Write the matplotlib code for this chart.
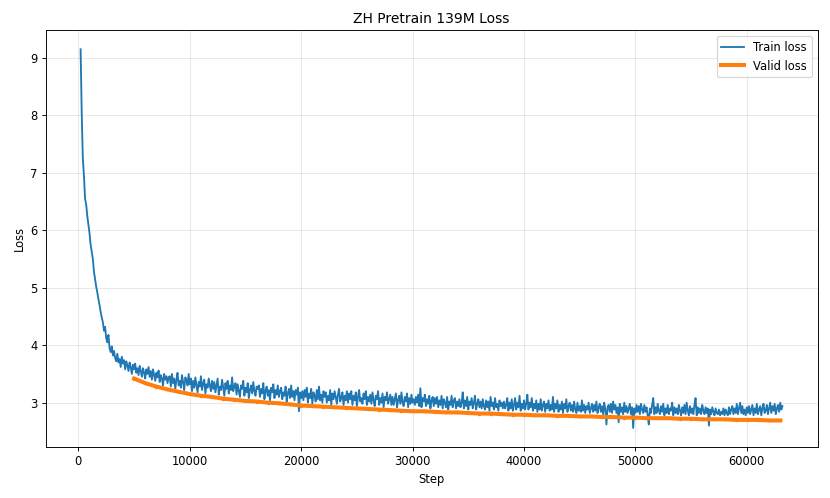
import numpy as np
import matplotlib
matplotlib.use("Agg")
import matplotlib.pyplot as plt

# train loss logged every 100 steps from step 200
train_steps = np.arange(200, 63201, 100)
train_loss = [
    9.15, 8.05, 7.25, 6.95, 6.55, 6.45, 6.25, 6.10, 5.95, 5.75, 5.62, 5.50, 5.28, 5.15, 5.02, 4.92, 4.80, 4.70, 4.58, 4.48,
    4.40, 4.25, 4.32, 4.12, 4.05, 4.18, 3.95, 3.88, 3.98, 3.82, 3.90, 3.78, 3.72, 3.85, 3.70, 3.76, 3.62, 3.80, 3.68, 3.74,
    3.58, 3.72, 3.65, 3.55, 3.70, 3.62, 3.50, 3.66, 3.58, 3.68, 3.52, 3.60, 3.48, 3.64, 3.55, 3.45, 3.60, 3.52, 3.42, 3.58,
    3.50, 3.62, 3.45, 3.55, 3.40, 3.58, 3.48, 3.38, 3.52, 3.44, 3.56, 3.36, 3.48, 3.42, 3.30, 3.50, 3.40, 3.46, 3.34, 3.44,
    3.46, 3.28, 3.50, 3.34, 3.42, 3.24, 3.40, 3.52, 3.30, 3.38, 3.26, 3.48, 3.36, 3.22, 3.44, 3.40, 3.30, 3.50, 3.32, 3.42,
    3.20, 3.38, 3.26, 3.44, 3.30, 3.18, 3.36, 3.28, 3.46, 3.22, 3.34, 3.40, 3.16, 3.32, 3.26, 3.42, 3.30, 3.20, 3.38, 3.24,
    3.36, 3.18, 3.30, 3.42, 3.14, 3.28, 3.22, 3.40, 3.26, 3.12, 3.34, 3.24, 3.38, 3.16, 3.30, 3.22, 3.44, 3.20, 3.28, 3.34,
    3.14, 3.32, 3.20, 3.10, 3.30, 3.24, 3.38, 3.12, 3.26, 3.18, 3.34, 3.08, 3.22, 3.30, 3.16, 3.36, 3.20, 3.12, 3.28, 3.24,
    3.30, 3.10, 3.24, 3.16, 3.34, 3.06, 3.20, 3.28, 3.12, 3.22, 3.04, 3.26, 3.18, 3.32, 3.08, 3.22, 3.14, 3.30, 3.10, 3.20,
    3.26, 3.06, 3.18, 3.12, 3.28, 3.02, 3.16, 3.24, 3.08, 3.30, 3.10, 3.20, 3.04, 3.22, 3.14, 3.26, 2.85, 3.18, 3.08, 3.20,
    3.04, 3.22, 3.10, 3.26, 3.00, 3.16, 3.08, 3.24, 2.98, 3.18, 3.12, 3.02, 3.22, 3.06, 3.28, 3.04, 3.14, 3.00, 3.20, 3.10,
    3.18, 3.00, 3.12, 3.04, 3.22, 2.96, 3.16, 3.06, 3.20, 3.10, 2.98, 3.14, 3.24, 3.02, 3.08, 3.18, 2.96, 3.12, 3.04, 3.20,
    3.00, 3.16, 3.06, 3.20, 2.96, 3.12, 3.04, 3.18, 2.94, 3.10, 3.22, 3.02, 3.08, 2.98, 3.16, 3.06, 3.20, 2.96, 3.10, 3.02,
    3.14, 2.98, 3.18, 3.04, 2.94, 3.12, 3.06, 3.20, 2.96, 3.08, 3.00, 3.16, 2.92, 3.10, 3.04, 3.18, 2.98, 3.06, 3.14, 2.96,
    3.10, 2.96, 3.06, 3.16, 2.92, 3.04, 3.12, 2.98, 3.18, 3.00, 2.94, 3.10, 3.02, 3.16, 2.92, 3.08, 2.98, 3.14, 3.00, 3.06,
    2.96, 3.10, 3.00, 3.14, 2.94, 3.25, 2.92, 3.08, 3.02, 3.14, 2.94, 3.06, 2.98, 3.12, 2.90, 3.04, 3.10, 2.94, 3.08, 2.98,
    3.10, 2.92, 3.04, 2.96, 3.12, 2.90, 3.06, 3.00, 2.92, 3.10, 2.88, 3.02, 2.96, 3.12, 2.92, 3.04, 3.08, 2.90, 3.02, 2.94,
    3.06, 2.92, 3.00, 3.18, 2.90, 3.04, 2.94, 3.10, 2.88, 3.02, 2.96, 3.08, 2.90, 3.00, 3.12, 2.88, 2.98, 3.06, 2.92, 3.02,
    2.90, 3.06, 2.94, 2.88, 3.04, 2.92, 3.02, 2.86, 3.10, 2.94, 3.00, 2.88, 3.08, 2.92, 2.98, 2.86, 3.04, 2.94, 3.00, 2.90,
    3.02, 2.90, 2.96, 3.08, 2.86, 3.00, 2.90, 3.06, 2.86, 2.96, 3.08, 2.88, 3.00, 2.92, 3.12, 2.86, 2.98, 2.90, 3.04, 2.88,
    2.98, 3.14, 2.88, 3.00, 2.92, 3.08, 2.86, 2.98, 2.90, 3.04, 2.84, 2.98, 2.88, 3.06, 2.86, 2.96, 3.02, 2.84, 2.98, 2.90,
    3.04, 2.86, 2.96, 2.88, 3.10, 2.84, 2.98, 2.90, 3.04, 2.84, 2.96, 2.88, 3.02, 2.82, 2.98, 2.90, 3.06, 2.84, 2.94, 3.00,
    2.86, 2.96, 2.84, 3.02, 2.88, 2.82, 3.00, 2.86, 2.94, 2.84, 3.04, 2.86, 2.96, 2.82, 2.94, 2.88, 3.00, 2.82, 2.90, 2.98,
    2.84, 2.96, 2.86, 3.02, 2.82, 2.92, 2.98, 2.84, 2.94, 2.80, 3.00, 2.88, 2.62, 2.92, 2.96, 2.84, 2.98, 2.82, 3.02, 2.88,
    2.96, 2.82, 2.92, 2.66, 2.98, 2.84, 2.92, 2.80, 3.00, 2.84, 2.94, 2.82, 2.90, 2.98, 2.80, 2.92, 2.56, 2.90, 2.82, 2.96,
    2.84, 2.94, 2.80, 2.98, 2.88, 2.82, 2.96, 2.84, 2.92, 2.78, 2.62, 2.90, 2.82, 2.96, 3.08, 2.80, 2.92, 2.82, 2.98, 2.86,
    2.80, 2.94, 2.84, 2.98, 2.78, 2.90, 2.82, 2.96, 2.80, 2.90, 2.86, 3.00, 2.78, 2.92, 2.82, 2.90, 2.80, 2.96, 2.86, 2.78,
    2.92, 2.82, 2.96, 2.80, 3.00, 2.86, 2.78, 2.94, 2.82, 2.90, 2.80, 2.96, 3.08, 2.78, 2.92, 2.82, 2.90, 2.80, 2.96, 2.86,
    2.80, 2.92, 2.82, 2.90, 2.60, 2.88, 2.80, 2.92, 2.84, 2.78, 2.90, 2.82, 2.80, 2.88, 2.78, 2.84, 2.80, 2.90, 2.78, 2.88,
    2.82, 2.78, 2.92, 2.80, 2.88, 2.94, 2.80, 2.90, 2.82, 2.98, 2.80, 2.90, 3.00, 2.82, 2.94, 2.80, 2.88, 2.78, 2.92, 2.82,
    2.94, 2.80, 2.88, 2.96, 2.78, 2.90, 2.82, 2.98, 2.80, 2.88, 2.94, 2.78, 2.90, 2.98, 2.82, 2.86, 2.96, 2.80, 2.90, 3.00,
    2.82, 2.94, 2.86, 2.98, 2.80, 2.90, 2.96, 2.84, 3.00, 2.88, 2.94,
]

# validation every 1000 steps from step 5000
valid_steps = np.arange(5000, 63001, 1000)
valid_loss = [
    3.42, 3.34, 3.28, 3.23, 3.19, 3.15, 3.12, 3.10, 3.07, 3.05,
    3.03, 3.02, 3.00, 2.99, 2.97, 2.95, 2.94, 2.93, 2.92, 2.91,
    2.90, 2.89, 2.88, 2.87, 2.86, 2.85, 2.85, 2.84, 2.83, 2.83,
    2.82, 2.81, 2.81, 2.80, 2.79, 2.79, 2.78, 2.78, 2.77, 2.77,
    2.76, 2.76, 2.75, 2.75, 2.74, 2.74, 2.73, 2.73, 2.73, 2.72,
    2.72, 2.71, 2.71, 2.71, 2.70, 2.70, 2.70, 2.69, 2.69,
]

fig, ax = plt.subplots(figsize=(10, 6), dpi=83)

ax.plot(train_steps, train_loss, color="#1f77b4", linewidth=1.6, label="Train loss")
ax.plot(valid_steps, valid_loss, color="#ff7f0e", linewidth=3.5, marker="o", markersize=2, label="Valid loss")

ax.set_title("ZH Pretrain 139M Loss")
ax.set_xlabel("Step")
ax.set_ylabel("Loss")
ax.grid(True, alpha=0.3)
ax.legend(loc="upper right")

fig.tight_layout()
fig.savefig("out.png", dpi=83)
